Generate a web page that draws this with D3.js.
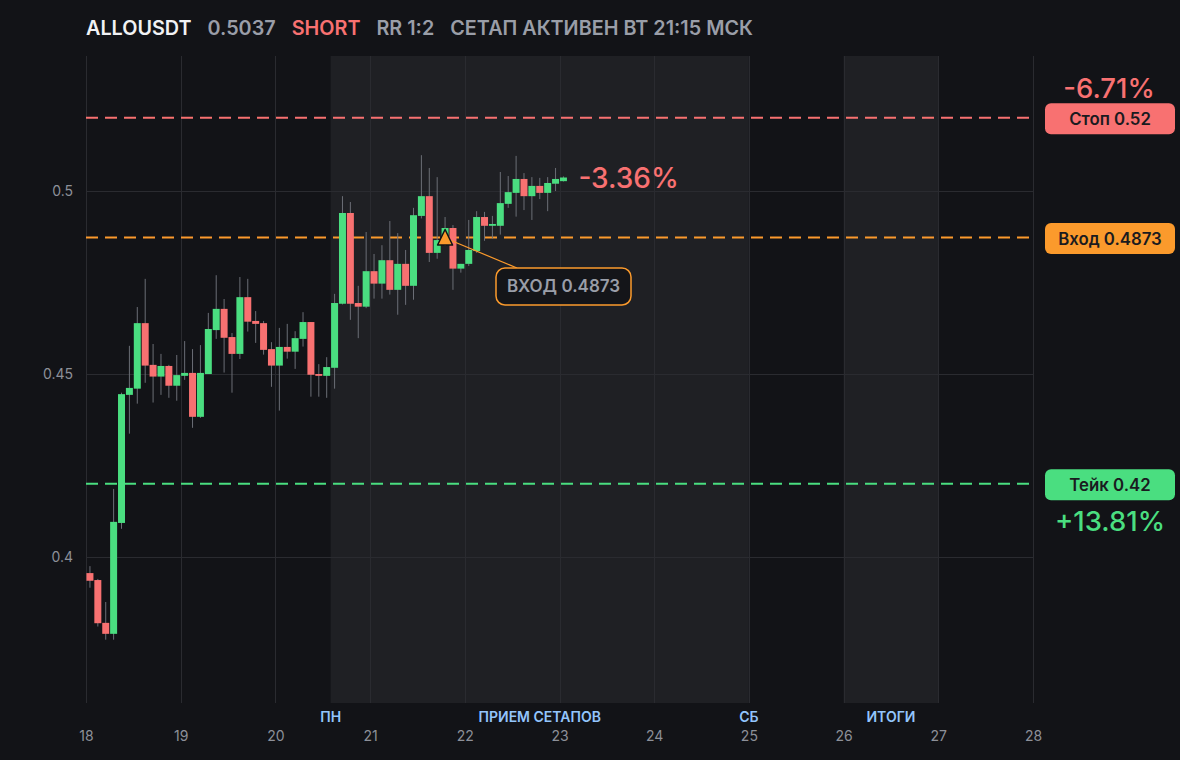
<!DOCTYPE html>
<html>
<head>
<meta charset="utf-8">
<script src="https://cdn.jsdelivr.net/npm/d3@7"></script>
<style>
  html, body { margin: 0; padding: 0; background: #121317; }
  svg { display: block; font-family: Inter, "Noto Sans", sans-serif; }
</style>
</head>
<body>
<svg id="chart" width="1180" height="760"></svg>
<script>
// ---------- data ----------
const symbol = "ALLOUSDT";
const lastPrice = "0.5037";
const side = "SHORT";
const rrText = "RR 1:2";
const statusText = "СЕТАП АКТИВЕН ВТ 21:15 МСК";

const startDay = 18;          // first candle time (day of month)
const candleStepDays = 1 / 12; // 2h candles

const opens  = [0.3956,0.3937,0.3820,0.3790,0.4093,0.4443,0.4460,0.4639,0.4525,0.4493,
                0.4522,0.4468,0.4495,0.4503,0.4383,0.4500,0.4620,0.4678,0.4601,0.4555,
                0.4710,0.4645,0.4639,0.4568,0.4523,0.4574,0.4561,0.4596,0.4642,0.4500,
                0.4495,0.4517,0.4692,0.4940,0.4694,0.4684,0.4781,0.4747,0.4811,0.4730,
                0.4801,0.4741,0.4932,0.4986,0.4831,0.4866,0.4899,0.4788,0.4801,0.4836,
                0.4929,0.4905,0.4905,0.4965,0.4995,0.5033,0.4986,0.5014,0.4995,0.5020,
                0.5027];
const highs  = [0.3975,0.3940,0.3877,0.4186,0.4449,0.4577,0.4683,0.4760,0.4582,0.4555,
                0.4525,0.4552,0.4590,0.4568,0.4579,0.4667,0.4770,0.4705,0.4612,0.4765,
                0.4760,0.4672,0.4645,0.4587,0.4626,0.4637,0.4617,0.4669,0.4642,0.4527,
                0.4546,0.4719,0.4986,0.4970,0.4741,0.4888,0.4828,0.4852,0.4918,0.4885,
                0.4839,0.4954,0.5098,0.5063,0.5038,0.4929,0.4907,0.4801,0.4921,0.4945,
                0.4943,0.4932,0.5052,0.5041,0.5096,0.5049,0.5038,0.5036,0.5038,0.5063,
                0.5040];
const lows   = [0.3916,0.3810,0.3774,0.3774,0.4077,0.4337,0.4419,0.4476,0.4422,0.4443,
                0.4435,0.4427,0.4484,0.4353,0.4380,0.4500,0.4596,0.4504,0.4449,0.4541,
                0.4616,0.4585,0.4553,0.4465,0.4400,0.4542,0.4514,0.4575,0.4438,0.4438,
                0.4435,0.4460,0.4690,0.4648,0.4598,0.4680,0.4706,0.4706,0.4717,0.4662,
                0.4689,0.4703,0.4925,0.4806,0.4815,0.4850,0.4730,0.4777,0.4795,0.4831,
                0.4864,0.4870,0.4881,0.4954,0.4930,0.4948,0.4921,0.4978,0.4945,0.5000,
                0.5026];
const closes = [0.3935,0.3819,0.3790,0.4096,0.4445,0.4462,0.4639,0.4523,0.4493,0.4522,
                0.4468,0.4497,0.4503,0.4383,0.4503,0.4623,0.4678,0.4599,0.4555,0.4710,
                0.4643,0.4637,0.4566,0.4523,0.4574,0.4561,0.4598,0.4642,0.4498,0.4495,
                0.4519,0.4694,0.4940,0.4692,0.4684,0.4781,0.4747,0.4811,0.4730,0.4801,
                0.4741,0.4934,0.4986,0.4831,0.4866,0.4899,0.4788,0.4801,0.4839,0.4929,
                0.4905,0.4910,0.4967,0.4997,0.5033,0.4986,0.5014,0.4995,0.5022,0.5033,
                0.5037];

const stopPrice = 0.52, entryPrice = 0.4873, takePrice = 0.42;
const stopLabel = "Стоп 0.52", entryLabel = "Вход 0.4873", takeLabel = "Тейк 0.42";
const stopPct = "-6.71%", takePct = "+13.81%", currentPct = "-3.36%";
const entryIndex = 45;
const entryNote = "ВХОД 0.4873";

const xTicks = [18,19,20,21,22,23,24,25,26,27,28];
const yTicks = [0.4, 0.45, 0.5];
const xDomain = [18, 28];
const yDomain = [0.3601, 0.5369];

// shaded sessions [start, end] in days; labels with anchor day
const sessions = [[20 + 14/24, 25], [26, 27]];
const sessionLabels = [
  {day: 20 + 14/24, text: "ПН"},
  {day: (20 + 14/24 + 25) / 2, text: "ПРИЕМ СЕТАПОВ"},
  {day: 25, text: "СБ"},
  {day: 26.5, text: "ИТОГИ"}
];

// ---------- colours ----------
const C = {
  bg: "#121317", shade: "#1f2024", grid: "#2a2b30",
  green: "#4ade80", red: "#f87171", orange: "#fb9a2c",
  wick: "#6b6e76", text: "#9a9ea8", tick: "#8d9099", blue: "#93c5fd", white: "#f1f2f4"
};

// ---------- scales ----------
const margin = {left: 86, right: 1033, top: 56, bottom: 703};
const x = d3.scaleLinear().domain(xDomain).range([margin.left, margin.right]);
const y = d3.scaleLinear().domain(yDomain).range([margin.bottom, margin.top]);

const svg = d3.select("#chart");
svg.append("rect").attr("width", 1180).attr("height", 760).attr("fill", C.bg);

// shaded sessions
svg.append("g").selectAll("rect").data(sessions).join("rect")
  .attr("x", d => x(d[0])).attr("width", d => x(d[1]) - x(d[0]))
  .attr("y", margin.top).attr("height", margin.bottom - margin.top)
  .attr("fill", C.shade);

// grid
const grid = svg.append("g").attr("stroke", C.grid).attr("stroke-width", 1);
grid.selectAll(".v").data(xTicks).join("line")
  .attr("x1", d => Math.round(x(d)) + 0.5).attr("x2", d => Math.round(x(d)) + 0.5)
  .attr("y1", margin.top).attr("y2", margin.bottom);
grid.selectAll(".h").data(yTicks).join("line")
  .attr("x1", margin.left).attr("x2", margin.right)
  .attr("y1", d => Math.round(y(d)) + 0.5).attr("y2", d => Math.round(y(d)) + 0.5);

// axes (text only)
const xAxis = d3.axisBottom(x).tickValues(xTicks).tickFormat(d3.format("d")).tickSize(0).tickPadding(0);
const gx = svg.append("g").attr("transform", `translate(0,${margin.bottom + 33})`).call(xAxis);
gx.select(".domain").remove();
gx.selectAll("text").attr("fill", C.tick).attr("font-size", 14).attr("dy", "0.35em")
  .attr("font-family", "Inter, sans-serif");

const yAxis = d3.axisLeft(y).tickValues(yTicks).tickFormat(d => String(d)).tickSize(0).tickPadding(0);
const gy = svg.append("g").attr("transform", `translate(73,0)`).call(yAxis);
gy.select(".domain").remove();
gy.selectAll("text").attr("fill", C.tick).attr("font-size", 14)
  .attr("font-family", "Inter, sans-serif");

// session labels
svg.append("g").selectAll("text").data(sessionLabels).join("text")
  .attr("x", d => x(d.day)).attr("y", 717).attr("dy", "0.35em")
  .attr("text-anchor", "middle").attr("fill", C.blue)
  .attr("font-size", 14).attr("font-weight", 600).text(d => d.text);

// level lines
const levels = [
  {p: stopPrice, color: C.red},
  {p: entryPrice, color: C.orange},
  {p: takePrice, color: C.green}
];
svg.append("g").selectAll("line").data(levels).join("line")
  .attr("x1", margin.left).attr("x2", margin.right)
  .attr("y1", d => y(d.p)).attr("y2", d => y(d.p))
  .attr("stroke", d => d.color).attr("stroke-width", 2).attr("stroke-dasharray", "12,7");

// candles
const candles = opens.map((o, i) => ({i, o, h: highs[i], l: lows[i], c: closes[i], t: startDay + i * candleStepDays}));
const step = x(startDay + candleStepDays) - x(startDay);
const bodyW = step - 0.9;
const cg = svg.append("g");
cg.selectAll("line").data(candles).join("line")
  .attr("x1", d => x(d.t) + step / 2).attr("x2", d => x(d.t) + step / 2)
  .attr("y1", d => y(d.h)).attr("y2", d => y(d.l))
  .attr("stroke", C.wick).attr("stroke-width", 1);
cg.selectAll("rect").data(candles).join("rect")
  .attr("x", d => x(d.t) + (step - bodyW) / 2).attr("width", bodyW)
  .attr("y", d => y(Math.max(d.o, d.c)))
  .attr("height", d => Math.max(1.5, Math.abs(y(d.o) - y(d.c))))
  .attr("fill", d => d.c >= d.o ? C.green : C.red);

// current pct label
const last = candles[candles.length - 1];
svg.append("text").attr("x", x(last.t) + step + 11).attr("y", y(last.c) + 1).attr("dy", "0.35em")
  .attr("fill", C.red).attr("font-size", 28).attr("font-weight", 500).text(currentPct);

// entry annotation
const ec = candles[entryIndex];
const ex = x(ec.t) + step / 2, ey = y(entryPrice);
const boxX = 496, boxY = 268, boxW = 135, boxH = 37;
svg.append("line").attr("x1", ex + 6).attr("y1", ey + 3).attr("x2", boxX + 21).attr("y2", boxY)
  .attr("stroke", C.orange).attr("stroke-width", 1.2);
svg.append("path")
  .attr("d", `M${ex},${ey - 8} L${ex + 7.5},${ey + 7.5} L${ex - 7.5},${ey + 7.5} Z`)
  .attr("fill", C.orange).attr("stroke", "#111214").attr("stroke-width", 1.5).attr("stroke-linejoin", "round");
svg.append("rect").attr("x", boxX).attr("y", boxY).attr("width", boxW).attr("height", boxH)
  .attr("rx", 9).attr("fill", "#141519").attr("stroke", C.orange).attr("stroke-width", 1.5);
svg.append("text").attr("x", boxX + boxW / 2).attr("y", boxY + boxH / 2).attr("dy", "0.35em")
  .attr("text-anchor", "middle").attr("fill", C.text).attr("font-size", 17).attr("font-weight", 600)
  .text(entryNote);

// right badges
const badges = [
  {p: stopPrice, text: stopLabel, color: C.red},
  {p: entryPrice, text: entryLabel, color: C.orange},
  {p: takePrice, text: takeLabel, color: C.green}
];
const bg = svg.append("g");
bg.selectAll("rect").data(badges).join("rect")
  .attr("x", 1045).attr("width", 130).attr("y", d => y(d.p) - 14.5).attr("height", 31)
  .attr("rx", 6).attr("fill", d => d.color);
bg.selectAll("text").data(badges).join("text")
  .attr("x", 1110).attr("y", d => y(d.p) + 1).attr("dy", "0.36em").attr("text-anchor", "middle")
  .attr("fill", "#1a1b1f").attr("font-size", 16.8).attr("font-weight", 600).text(d => d.text);

svg.append("text").attr("x", 1109).attr("y", y(stopPrice) - 20).attr("text-anchor", "middle")
  .attr("fill", C.red).attr("font-size", 27.5).attr("font-weight", 500).text(stopPct);
svg.append("text").attr("x", 1110).attr("y", y(takePrice) + 47).attr("text-anchor", "middle")
  .attr("fill", C.green).attr("font-size", 27.5).attr("font-weight", 500).text(takePct);

// header
const header = [
  {text: symbol, color: C.white},
  {text: lastPrice, color: C.text},
  {text: side, color: C.red},
  {text: rrText, color: C.text},
  {text: statusText, color: C.text}
];
let hx = 86;
header.forEach(h => {
  const t = svg.append("text").attr("x", hx).attr("y", 35)
    .attr("fill", h.color).attr("font-size", 19.8).attr("font-weight", 600).text(h.text);
  hx += t.node().getComputedTextLength() + 16;
});
</script>
</body>
</html>
